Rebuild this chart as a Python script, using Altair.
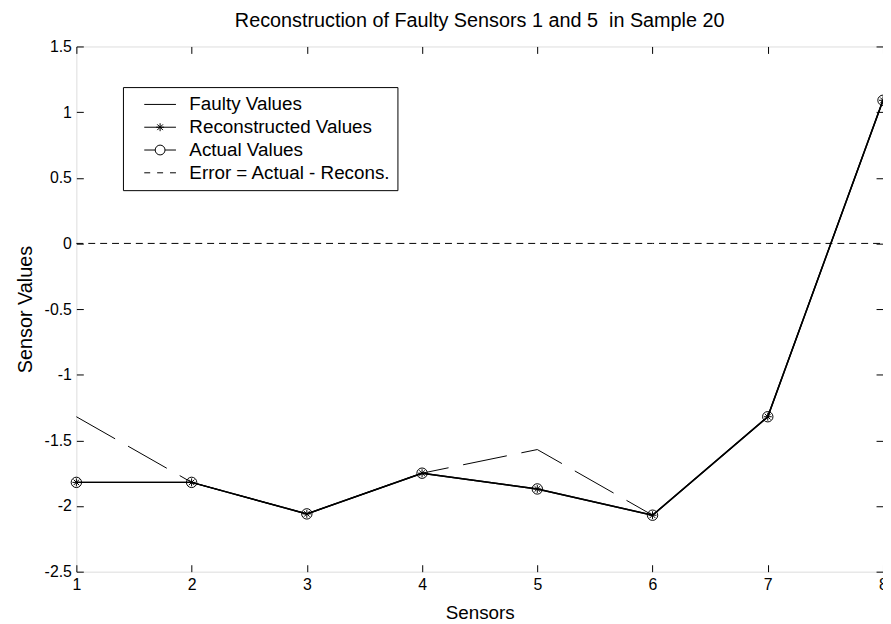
import altair as alt
import pandas as pd

# ---- data ----
sensors = [1, 2, 3, 4, 5, 6, 7, 8]
faulty = [-1.32, -1.82, -2.06, -1.75, -1.57, -2.07, -1.32, 1.09]
reconstructed = [-1.82, -1.82, -2.06, -1.75, -1.87, -2.07, -1.32, 1.09]
actual = [-1.82, -1.82, -2.06, -1.75, -1.87, -2.07, -1.32, 1.09]
error = [a - r for a, r in zip(actual, reconstructed)]

series_names = ["Faulty Values", "Reconstructed Values", "Actual Values",
                "Error = Actual - Recons."]
x_ticks = [1, 2, 3, 4, 5, 6, 7, 8]
y_ticks = [-2.5, -2, -1.5, -1, -0.5, 0, 0.5, 1, 1.5]
title_text = "Reconstruction of Faulty Sensors 1 and 5\u00a0 in Sample 20"

df = pd.DataFrame({"sensor": sensors, "faulty": faulty, "recons": reconstructed,
                   "actual": actual, "error": error})
legend_df = pd.DataFrame({"series": series_names})

FONT = "Liberation Sans"
xs = alt.Scale(domain=[1, 8], nice=False, zero=False)
ys = alt.Scale(domain=[-2.5, 1.5], nice=False, zero=False)

ax_common = dict(grid=False, domain=False, tickSize=7, offset=-7, tickColor="black",
                 tickWidth=1, labelFont=FONT, labelFontSize=16, labelColor="black",
                 titleFont=FONT, titleFontWeight="normal",
                 titleColor="black", labelFlush=False, labelOverlap=False)

x_bottom = alt.X("sensor:Q", scale=xs, title="Sensors",
                 axis=alt.Axis(orient="bottom", values=x_ticks, format="d",
                               labelPadding=5, titlePadding=11, titleFontSize=19,
                               **ax_common))
y_left = alt.Y("faulty:Q", scale=ys, title="Sensor Values",
               axis=alt.Axis(orient="left", values=y_ticks,
                             labelExpr="replace(format(datum.value, '~g'), '\u2212', '-')",
                             labelPadding=5, titlePadding=9, titleFontSize=20,
                             **ax_common))
x_top = alt.X("sensor:Q", scale=xs, title=None,
              axis=alt.Axis(orient="top", values=x_ticks, labels=False, **ax_common))
y_right = alt.Y("error:Q", scale=ys, title=None,
                axis=alt.Axis(orient="right", values=y_ticks, labels=False, **ax_common))

xn = alt.X("sensor:Q", scale=xs, axis=None)

faulty_line = alt.Chart(df).mark_line(color="black", strokeWidth=1, strokeDash=[45, 15]).encode(
    x=x_bottom, y=y_left)
error_line = alt.Chart(df).mark_line(color="black", strokeWidth=1, strokeDash=[7, 5]).encode(
    x=x_top, y=y_right)
recons_line = alt.Chart(df).mark_line(color="black", strokeWidth=1.5).encode(
    x=xn, y=alt.Y("recons:Q", scale=ys, axis=None))
actual_line = alt.Chart(df).mark_line(color="black", strokeWidth=1.5).encode(
    x=xn, y=alt.Y("actual:Q", scale=ys, axis=None))

ASTER = "M-1,0L1,0M0,-1L0,1M-0.7,-0.7L0.7,0.7M-0.7,0.7L0.7,-0.7"
recons_pts = alt.Chart(df).mark_point(shape=ASTER, size=64, filled=False, color="black",
                                      opacity=1, strokeWidth=1).encode(
    x=xn, y=alt.Y("recons:Q", scale=ys, axis=None))
actual_pts = alt.Chart(df).mark_point(shape="circle", size=110, filled=False, color="black",
                                      opacity=1, strokeWidth=1).encode(
    x=xn, y=alt.Y("actual:Q", scale=ys, axis=None))

legend_paths = [
    "M-1,0L1,0",
    "M-1,0L1,0M-0.25,0L0.25,0M0,-0.25L0,0.25M-0.18,-0.18L0.18,0.18M-0.18,0.18L0.18,-0.18",
    "M-1,0L-0.31,0M0.31,0L1,0M0.31,0A0.31,0.31 0 1,1 -0.31,0A0.31,0.31 0 1,1 0.31,0",
    "M-1,0L-0.625,0M-0.1875,0L0.1875,0M0.625,0L1,0",
]

legend_layer = alt.Chart(legend_df).transform_filter("false").mark_point(
    filled=False, color="black", opacity=1, strokeWidth=1).encode(
    x=alt.value(0), y=alt.value(0),
    shape=alt.Shape("series:N",
                    scale=alt.Scale(domain=series_names, range=legend_paths),
                    legend=alt.Legend(title=None, orient="none", legendX=47, legendY=41,
                                      direction="vertical", symbolSize=1024,
                                      symbolStrokeWidth=1, symbolStrokeColor="black",
                                      symbolFillColor="transparent", symbolOpacity=1,
                                      symbolOffset=15, labelOffset=13, labelFont=FONT,
                                      labelFontSize=19, labelColor="black", labelLimit=400,
                                      labelExpr="datum.label + '\u00a0\u00a0\u00a0'",
                                      clipHeight=23, rowPadding=0, padding=6,
                                      strokeColor="black", fillColor="white")))

chart = alt.layer(
    faulty_line, error_line, recons_line, actual_line, recons_pts, actual_pts, legend_layer
).resolve_axis(x="independent", y="independent").properties(
    width=814, height=530,
    autosize=alt.AutoSizeParams(type="none"),
    padding={"left": 69, "top": 36, "right": 0, "bottom": 50},
    title=alt.TitleParams(title_text, font=FONT, fontSize=20, fontWeight="normal",
                          color="black", anchor="middle", frame="group",
                          baseline="alphabetic", offset=16, dy=24),
).configure_view(stroke="black", strokeWidth=1.5).configure(background="white")

chart.save("out.html", embed_options={"renderer": "svg", "actions": False})
